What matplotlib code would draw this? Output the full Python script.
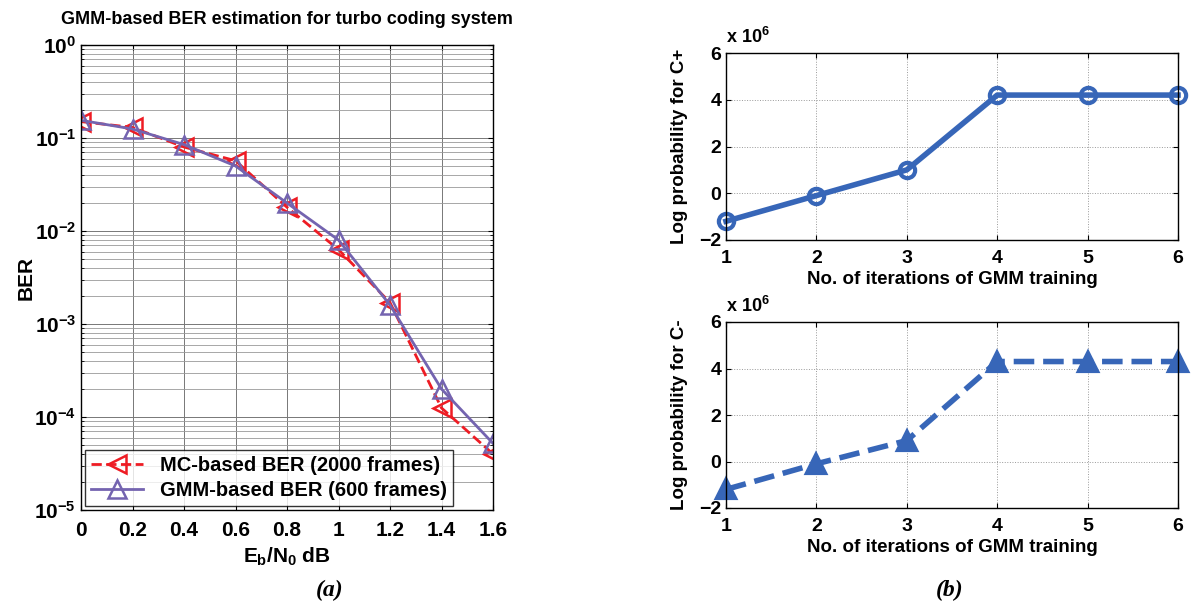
import numpy as np
import matplotlib
matplotlib.use('Agg')
import matplotlib.pyplot as plt

plt.rcParams['font.family'] = ['Liberation Sans', 'DejaVu Sans']
plt.rcParams['font.weight'] = 'bold'
plt.rcParams['mathtext.fontset'] = 'custom'
plt.rcParams['mathtext.rm'] = 'Liberation Sans:bold'
plt.rcParams['mathtext.it'] = 'Liberation Sans:bold'
plt.rcParams['mathtext.bf'] = 'Liberation Sans:bold'

# data
ebn0 = [0, 0.2, 0.4, 0.6, 0.8, 1.0, 1.2, 1.4, 1.6]
ber_mc = [0.15, 0.13, 0.08, 0.057, 0.018, 0.0063, 0.0017, 1.25e-4, 4.0e-5]
ber_gmm = [0.155, 0.125, 0.085, 0.05, 0.02, 0.008, 0.0016, 2.0e-4, 5.2e-5]

iters = [1, 2, 3, 4, 5, 6]
logp_cplus = [-1.2, -0.1, 1.0, 4.2, 4.2, 4.2]   # x 1e6
logp_cminus = [-1.2, -0.1, 0.9, 4.3, 4.3, 4.3]  # x 1e6

red = '#ee1c24'
purple = '#7464b0'
blue = '#3766b8'

fig = plt.figure(figsize=(11.92, 6.05), dpi=100)
W, H = 1192.0, 605.0

def axrect(x0, y0, x1, y1):
    return [x0 / W, 1 - y1 / H, (x1 - x0) / W, (y1 - y0) / H]

# (a) BER curves
ax = fig.add_axes(axrect(81, 45, 493, 510))
ax.semilogy(ebn0, ber_mc, '--', color=red, lw=2, marker='<', ms=13, mfc='none',
            mec=red, mew=1.8, label='MC-based BER (2000 frames)')
ax.semilogy(ebn0, ber_gmm, '-', color=purple, lw=2, marker='^', ms=13, mfc='none',
            mec=purple, mew=1.8, label='GMM-based BER (600 frames)')
ax.set_xlim(0, 1.6)
ax.set_ylim(1e-5, 1)
ax.set_xticks(np.arange(0, 1.61, 0.2))
ax.set_xticklabels(['0', '0.2', '0.4', '0.6', '0.8', '1', '1.2', '1.4', '1.6'])
ax.set_yticks([1e-5, 1e-4, 1e-3, 1e-2, 1e-1, 1])
ax.set_yticklabels([r'$10^{-5}$', r'$10^{-4}$', r'$10^{-3}$', r'$10^{-2}$',
                    r'$10^{-1}$', r'$10^{0}$'])
ax.grid(True, which='major', color='#777777', lw=0.7)
ax.grid(True, which='minor', color='#999999', lw=0.6)
ax.tick_params(which='both', direction='in', top=True, right=True, labelsize=15)
ax.tick_params(axis='x', pad=8)
ax.set_title('GMM-based BER estimation for turbo coding system', fontsize=13,
             fontweight='bold', pad=15)
ax.set_ylabel('BER', fontsize=15, fontweight='bold', labelpad=-1)
ax.set_xlabel(r'$E_b/N_0$ dB', fontsize=15, fontweight='bold', labelpad=4)
leg = ax.legend(loc='lower left', fontsize=14.5, frameon=True, fancybox=False,
                edgecolor='black', borderaxespad=0.2, handlelength=2.6,
                borderpad=0.3, labelspacing=0.3)
leg.get_frame().set_linewidth(1.0)
for s in ax.spines.values():
    s.set_linewidth(1.0)

# (b) log probability curves
def prob_panel(rect, vals, ls, marker, mfc, ms, label):
    a = fig.add_axes(axrect(*rect))
    a.plot(iters, vals, ls, color=blue, lw=4, marker=marker, ms=ms,
           mfc=mfc, mec=blue, mew=3, clip_on=False)
    a.set_xlim(1, 6)
    a.set_ylim(-2, 6)
    a.set_xticks(iters)
    a.set_yticks([-2, 0, 2, 4, 6])
    a.grid(True, color='#999999', lw=0.7, ls=':')
    a.tick_params(direction='in', top=True, right=True, labelsize=14)
    a.tick_params(axis='x', pad=7)
    a.set_xlabel('No. of iterations of GMM training', fontsize=13.5, fontweight='bold',
                 labelpad=3)
    a.set_ylabel(label, fontsize=13.5, fontweight='bold', labelpad=8)
    a.text(0.0, 1.03, r'x $10^{6}$', transform=a.transAxes, fontsize=13,
           ha='left', va='bottom')
    for s in a.spines.values():
        s.set_linewidth(1.0)
    return a

prob_panel((726, 53, 1178, 240), logp_cplus, '-', 'o', 'none', 11, 'Log probability for C+')
prob_panel((726, 322, 1178, 508), logp_cminus, '--', '^', blue, 13, 'Log probability for C-')

fig.text(330 / W, 1 - 590 / H, '(a)', fontsize=17, fontstyle='italic', fontweight='bold',
         family='Liberation Serif', ha='center', va='center')
fig.text(950 / W, 1 - 590 / H, '(b)', fontsize=17, fontstyle='italic', fontweight='bold',
         family='Liberation Serif', ha='center', va='center')

fig.savefig('out.png', dpi=100)
